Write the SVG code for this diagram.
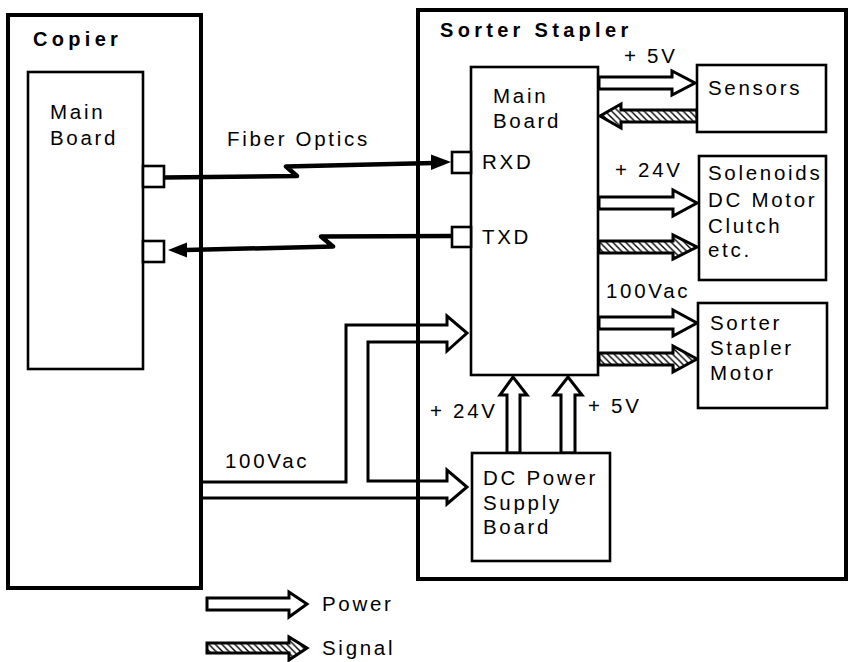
<svg xmlns="http://www.w3.org/2000/svg" width="851" height="662" viewBox="0 0 851 662">
<defs>
<pattern id="hatch" patternUnits="userSpaceOnUse" width="6.5" height="6.5">
<rect width="6.5" height="6.5" fill="#fff"/>
<path d="M-1,-1 L7.5,7.5 M-4.25,2.25 L2.25,8.75 M4.25,-2.25 L10.75,4.25" stroke="#000" stroke-width="1.4"/>
</pattern>
</defs>
<style>
text{font-family:"Liberation Sans",Arial,Helvetica,sans-serif;font-size:20.5px;letter-spacing:2.7px;fill:#000}
.title{font-weight:bold;font-size:20px;letter-spacing:4.3px}
.outer{fill:none;stroke:#000;stroke-width:4}
.box{fill:#fff;stroke:#000;stroke-width:2.6}
.pw{fill:#fff;stroke:#000;stroke-width:3;stroke-linejoin:miter}
.sg{fill:url(#hatch);stroke:#000;stroke-width:3;stroke-linejoin:miter}
.fib{fill:none;stroke:#000;stroke-width:4.5;stroke-linejoin:round}
.head{fill:#000;stroke:none}
</style>
<rect width="851" height="662" fill="#fff"/>
<g id="connectors">
<path class="pw" d="M201,482 H346 V325 H447 V316 L467,333 L447,351 V342 H368 V481 H447 V470 L467,487 L447,504 V498 H201 Z"/>
<path class="fib" d="M164,177.5 L297,176 L286,166.5 L434,163"/>
<polygon class="head" points="451,162 431,154.5 431,170"/>
<path class="fib" d="M452,236 L321,236.5 L333,246.5 L186,250"/>
<polygon class="head" points="168,250 187,242.5 187,257.5"/>
<path class="pw" d="M599,77 H672 V71 L695,83 L672,95 V89 H599 Z"/>
<path class="sg" d="M697,110 H621 V104 L600,116 L621,128 V122 H697 Z"/>
<path class="pw" d="M599,197 H673 V190 L697,203 L673,216 V209 H599 Z"/>
<path class="sg" d="M599,241 H673 V235 L697,247 L673,259 V253 H599 Z"/>
<path class="pw" d="M599,317 H673 V310 L697,323 L673,336 V329 H599 Z"/>
<path class="sg" d="M599,353 H673 V346 L697,359 L673,372 V365 H599 Z"/>
<path class="pw" d="M507,453 V395 H500 L513,377 L527,395 H520 V453 Z"/>
<path class="pw" d="M561,453 V395 H554 L568,377 L582,395 H575 V453 Z"/>
</g>
<g id="copier">
<rect class="outer" x="8" y="15" width="193" height="573"/>
<text class="title" x="33" y="46">Copier</text>
</g>
<g id="copier-main-board">
<rect class="box" x="28" y="72" width="115" height="297"/>
<text x="50" y="119">Main</text>
<text x="50" y="145">Board</text>
<rect class="box" x="143" y="166" width="21" height="21"/>
<rect class="box" x="143" y="241" width="21" height="21"/>
</g>
<g id="sorter-stapler">
<rect class="outer" x="418" y="10" width="428" height="569"/>
<text class="title" x="440" y="37">Sorter Stapler</text>
</g>
<g id="sorter-main-board">
<rect class="box" x="471" y="67" width="127" height="308"/>
<text x="493" y="103">Main</text>
<text x="493" y="128">Board</text>
<rect class="box" x="452" y="152" width="19" height="21"/>
<text x="482" y="169">RXD</text>
<rect class="box" x="452" y="227" width="19" height="20"/>
<text x="482" y="244">TXD</text>
</g>
<g id="sensors">
<rect class="box" x="697" y="65" width="129" height="67"/>
<text x="708" y="95">Sensors</text>
</g>
<g id="solenoids">
<rect class="box" x="699" y="156" width="127" height="124"/>
<text x="708" y="180">Solenoids</text>
<text x="708" y="207">DC Motor</text>
<text x="708" y="233">Clutch</text>
<text x="708" y="257">etc.</text>
</g>
<g id="motor">
<rect class="box" x="698" y="303" width="129" height="105"/>
<text x="710" y="330">Sorter</text>
<text x="710" y="355">Stapler</text>
<text x="710" y="380">Motor</text>
</g>
<g id="dc-power">
<rect class="box" x="472" y="453" width="138" height="108"/>
<text x="483" y="485">DC Power</text>
<text x="483" y="510">Supply</text>
<text x="483" y="534">Board</text>
</g>
<g id="labels">
<text x="227" y="146">Fiber Optics</text>
<text x="624" y="63">+ 5V</text>
<text x="615" y="177">+ 24V</text>
<text x="606" y="298">100Vac</text>
<text x="430" y="418">+ 24V</text>
<text x="588" y="413">+ 5V</text>
<text x="225" y="468">100Vac</text>
</g>
<g id="legend">
<path class="pw" d="M207,598 H289 V592 L307,604 L289,617 V610 H207 Z"/>
<text x="322" y="611">Power</text>
<path class="sg" d="M207,643 H289 V637 L307,648 L289,660 V653 H207 Z"/>
<text x="322" y="655">Signal</text>
</g>
</svg>
